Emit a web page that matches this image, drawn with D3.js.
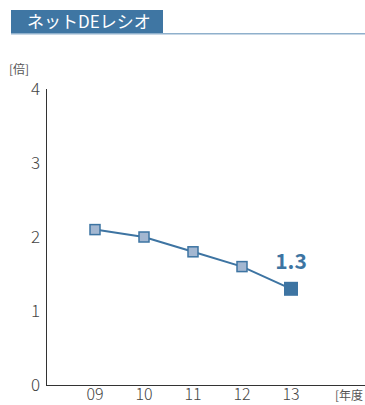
<!DOCTYPE html>
<html>
<head>
<meta charset="utf-8">
<script src="https://cdnjs.cloudflare.com/ajax/libs/d3/7.8.5/d3.min.js"></script>
<style>
  body { margin: 0; background: #fff; }
  text { font-family: "Noto Sans CJK JP", "Noto Sans", sans-serif; }
</style>
</head>
<body>
<script>
var years = ["09", "10", "11", "12", "13"]
var ratio = [2.1, 2.0, 1.8, 1.6, 1.3]
var yTicks = [0, 1, 2, 3, 4]

var width = 365, height = 405
var blue = "#3d74a2"

var svg = d3.select("body").append("svg")
  .attr("width", width)
  .attr("height", height)

// title bar
svg.append("rect")
  .attr("x", 11).attr("y", 10)
  .attr("width", 152).attr("height", 23)
  .attr("fill", "#3f76a3")
svg.append("rect")
  .attr("x", 11).attr("y", 33)
  .attr("width", 354).attr("height", 1.5)
  .attr("fill", "#8fb0cc")
svg.append("text")
  .attr("x", 27).attr("y", 28)
  .attr("fill", "#fff")
  .attr("font-size", 17)
  .attr("font-weight", 400)
  .text("ネットDEレシオ")

var x = d3.scalePoint()
  .domain(years)
  .range([95, 291])

var y = d3.scaleLinear()
  .domain([0, 4])
  .range([385, 89])

// axes
svg.append("line")
  .attr("x1", 46.5).attr("x2", 46.5)
  .attr("y1", y(4)).attr("y2", y(0))
  .attr("stroke", "#333").attr("stroke-width", 1)
svg.append("line")
  .attr("x1", 46).attr("x2", 365)
  .attr("y1", y(0) + 0.5).attr("y2", y(0) + 0.5)
  .attr("stroke", "#333").attr("stroke-width", 1)

svg.selectAll("text.ytick")
  .data(yTicks)
  .enter().append("text")
  .attr("class", "ytick")
  .attr("x", 40)
  .attr("y", function (d) { return y(d) + 6 })
  .attr("text-anchor", "end")
  .attr("fill", "#444")
  .attr("font-size", 17)
  .attr("font-weight", 300)
  .text(function (d) { return d })

svg.selectAll("text.xtick")
  .data(years)
  .enter().append("text")
  .attr("class", "xtick")
  .attr("x", function (d) { return x(d) })
  .attr("y", 400)
  .attr("text-anchor", "middle")
  .attr("fill", "#444")
  .attr("font-size", 16)
  .attr("font-weight", 300)
  .text(function (d) { return d })

svg.append("text")
  .attr("x", 9).attr("y", 74)
  .attr("fill", "#555")
  .attr("font-size", 12)
  .text("[倍]")
svg.append("text")
  .attr("x", 335).attr("y", 400)
  .attr("fill", "#555")
  .attr("font-size", 12)
  .text("[年度")

// line
var pts = years.map(function (d, i) { return { year: d, v: ratio[i] } })
svg.append("path")
  .datum(pts)
  .attr("fill", "none")
  .attr("stroke", blue)
  .attr("stroke-width", 2)
  .attr("d", d3.line()
    .x(function (d) { return x(d.year) })
    .y(function (d) { return y(d.v) }))

svg.selectAll("rect.mk")
  .data(pts.slice(0, -1))
  .enter().append("rect")
  .attr("class", "mk")
  .attr("x", function (d) { return x(d.year) - 5 })
  .attr("y", function (d) { return y(d.v) - 5 })
  .attr("width", 10).attr("height", 10)
  .attr("fill", "#a3b7d1")
  .attr("stroke", blue)
  .attr("stroke-width", 1.5)

var last = pts[pts.length - 1]
svg.append("rect")
  .attr("x", x(last.year) - 7)
  .attr("y", y(last.v) - 7)
  .attr("width", 14).attr("height", 14)
  .attr("fill", blue)

svg.append("text")
  .attr("x", x(last.year))
  .attr("y", y(last.v) - 20)
  .attr("text-anchor", "middle")
  .attr("fill", blue)
  .attr("font-size", 21)
  .attr("font-weight", 700)
  .text(last.v.toFixed(1))
</script>
</body>
</html>
